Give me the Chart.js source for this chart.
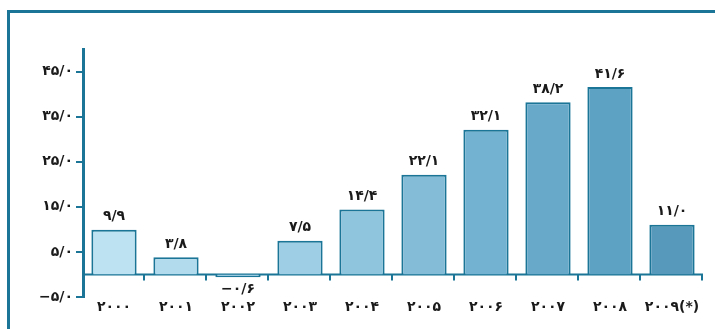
<!DOCTYPE html>
<html>
<head>
<meta charset="utf-8">
<script src="https://cdn.jsdelivr.net/npm/chart.js@4/dist/chart.umd.min.js"></script>
<style>
  html, body { margin: 0; padding: 0; background: #fff; }
  #wrap { position: relative; width: 715px; height: 329px; overflow: hidden; }
  #frame {
    position: absolute; left: 7px; top: 10px; width: 800px; height: 400px;
    border-left: 3px solid #1a7596; border-top: 3px solid #1a7596;
  }
  #growth { position: absolute; left: 0; top: 0; }
</style>
</head>
<body>
<div id="wrap">
  <div id="frame"></div>
  <canvas id="growth" width="715" height="329"></canvas>
</div>
<script>
const years = ['۲۰۰۰', '۲۰۰۱', '۲۰۰۲', '۲۰۰۳', '۲۰۰۴', '۲۰۰۵', '۲۰۰۶', '۲۰۰۷', '۲۰۰۸', '۲۰۰۹(*)'];
const growth = [9.9, 3.8, -0.6, 7.5, 14.4, 22.1, 32.1, 38.2, 41.6, 11.0];
const yTicks = [-5, 5, 15, 25, 35, 45];
const barColors = ['#bde2f2', '#b2dbee', '#a9d5ea', '#9ecee5', '#90c5de', '#84bcd8', '#74b2d1', '#68a9ca', '#5ea2c3', '#5699bb'];

const lineBlue = '#1a7596';
const inkColor = '#1a1a1a';
const faDigits = '۰۱۲۳۴۵۶۷۸۹';

// 12.5 -> ۱۲/۵ , negatives get a real minus sign
const toFa = v => {
  const s = Math.abs(v).toFixed(1).replace('.', '/').replace(/\d/g, d => faDigits[d]);
  return v < 0 ? '−' + s : s;
};

// slightly lighter on the left edge of every bar
const barFill = c => {
  const el = c.element;
  const base = barColors[c.dataIndex];
  if (!el || !el.width) return base;
  const ctx = c.chart.ctx;
  const g = ctx.createLinearGradient(el.x - el.width / 2, 0, el.x + el.width / 2, 0);
  g.addColorStop(0, base + 'dd');
  g.addColorStop(1, base);
  return g;
};

// Persian digits read better with a bit of tracking
const tracking = {
  id: 'tracking',
  beforeDraw(chart) { chart.ctx.letterSpacing = '1.5px'; }
};

// zero baseline with small ticks hanging under it at category edges
const zeroLine = {
  id: 'zeroLine',
  beforeDatasetsDraw(chart) {
    const { ctx, chartArea } = chart;
    const y0 = chart.scales.y.getPixelForValue(0);
    const step = (chartArea.right - chartArea.left) / years.length;
    ctx.save();
    ctx.strokeStyle = lineBlue;
    ctx.lineWidth = 2;
    ctx.beginPath();
    ctx.moveTo(chartArea.left, y0);
    ctx.lineTo(chartArea.right, y0);
    for (let i = 1; i <= years.length; i++) {
      const px = chartArea.left + step * i - 1;
      ctx.moveTo(px, y0);
      ctx.lineTo(px, y0 + 6);
    }
    ctx.stroke();
    ctx.restore();
  }
};

const valueLabels = {
  id: 'valueLabels',
  afterDatasetsDraw(chart) {
    const { ctx } = chart;
    const meta = chart.getDatasetMeta(0);
    ctx.save();
    ctx.fillStyle = inkColor;
    ctx.font = 'bold 14px "DejaVu Sans"';
    ctx.letterSpacing = '2px';
    ctx.textAlign = 'center';
    ctx.textBaseline = 'middle';
    meta.data.forEach((bar, i) => {
      const v = growth[i];
      const ty = v < 0 ? bar.y + 12 : bar.y - 13;
      ctx.fillText(toFa(v), bar.x, ty);
    });
    ctx.restore();
  }
};

new Chart(document.getElementById('growth'), {
  type: 'bar',
  data: {
    labels: years,
    datasets: [{
      data: growth,
      backgroundColor: barFill,
      borderColor: lineBlue,
      borderWidth: 2,
      borderSkipped: 'start',
      categoryPercentage: 1,
      barPercentage: 0.73
    }]
  },
  options: {
    responsive: false,
    animation: false,
    layout: { padding: { top: 49, right: 12, left: 0, bottom: 0 } },
    plugins: {
      legend: { display: false },
      tooltip: { enabled: false }
    },
    scales: {
      x: {
        afterFit: s => { s.height = 32; },
        grid: { display: false, drawTicks: false },
        border: { display: false },
        ticks: {
          padding: 2,
          color: inkColor,
          font: { family: 'DejaVu Sans', size: 14, weight: 'bold' },
          maxRotation: 0
        }
      },
      y: {
        min: -5,
        max: 50,
        afterFit: s => { s.width = 83; },
        afterBuildTicks: s => { s.ticks = yTicks.map(v => ({ value: v })); },
        border: { display: true, color: lineBlue, width: 3 },
        grid: { drawOnChartArea: false, color: lineBlue, lineWidth: 2, tickLength: 7 },
        ticks: {
          padding: 3,
          color: inkColor,
          font: { family: 'DejaVu Sans', size: 14, weight: 'bold' },
          callback: v => toFa(v)
        }
      }
    }
  },
  plugins: [tracking, zeroLine, valueLabels]
});
</script>
</body>
</html>
